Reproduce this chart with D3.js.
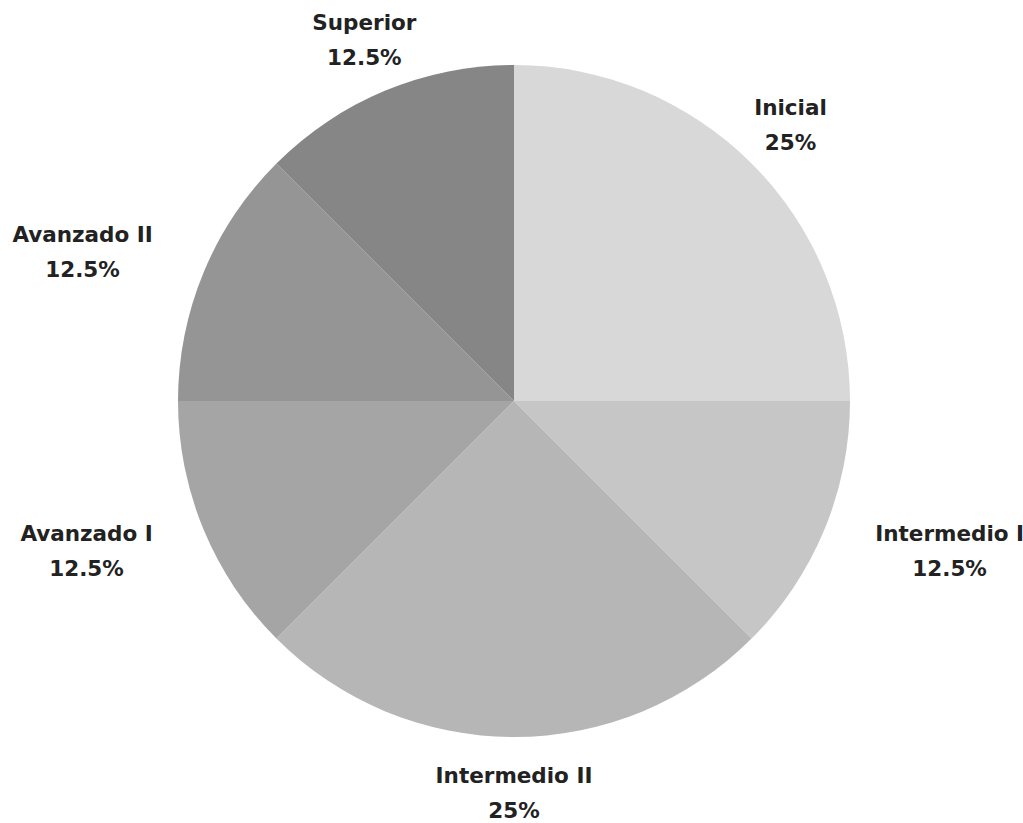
<!DOCTYPE html>
<html><head><meta charset="utf-8">
<script src="https://cdn.jsdelivr.net/npm/d3@7"></script>
<style>html,body{margin:0;padding:0;background:#fff;}svg{display:block;}</style>
</head><body>
<svg id="chart" width="1023" height="823"></svg>
<script>
const categories = ["Inicial","Intermedio I","Intermedio II","Avanzado I","Avanzado II","Superior"];
const values = [25, 12.5, 25, 12.5, 12.5, 12.5];
const valueLabels = ["25%","12.5%","25%","12.5%","12.5%","12.5%"];
const colors = ["#d8d8d8","#c6c6c6","#b6b6b6","#a5a5a5","#959595","#868686"];

const svg = d3.select("#chart");
const cx = 514, cy = 401, R = 336, LR = 391;
const data = categories.map((c,i)=>({name:c, value:values[i], label:valueLabels[i], color:colors[i]}));
const pie = d3.pie().value(d=>d.value).sort(null);
const arc = d3.arc().innerRadius(0).outerRadius(R);
const g = svg.append("g").attr("transform",`translate(${cx},${cy})`);
const arcs = pie(data);
g.selectAll("path").data(arcs).join("path")
  .attr("d",arc).attr("fill",d=>d.data.color);

const lg = g.selectAll("g.lab").data(arcs).join("g").attr("class","lab");
lg.each(function(d){
  const a = (d.startAngle+d.endAngle)/2;
  const s = Math.sin(a), c = Math.cos(a);
  const x = LR*s, y = -LR*c;
  const t = d3.select(this).append("text")
    .attr("text-anchor","middle")
    .attr("font-family","'DejaVu Sans', sans-serif")
    .attr("font-weight","bold")
    .attr("font-size",21.5)
    .attr("fill","#222");
  const t1 = t.append("tspan").attr("y",y-17).attr("dy","0.35em").text(d.data.name);
  const t2 = t.append("tspan").attr("y",y+18).attr("dy","0.35em").text(d.data.label);
  const w = Math.max(t1.node().getComputedTextLength(), t2.node().getComputedTextLength());
  let xc = x;
  if (s > 0.8) xc = x + w/2;
  else if (s < -0.8) xc = x - w/2;
  t1.attr("x",xc); t2.attr("x",xc);
});
</script>
</body></html>
